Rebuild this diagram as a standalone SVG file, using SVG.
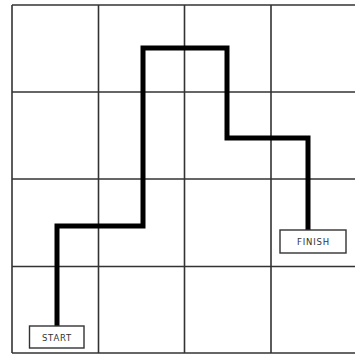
<svg xmlns="http://www.w3.org/2000/svg" width="355" height="356" viewBox="0 0 355 356">
<style>
.grid{stroke:#333;stroke-width:1.6;fill:none}
.path{stroke:#000;stroke-width:5;fill:none;stroke-linejoin:miter}
.box{fill:#fff;stroke:#333;stroke-width:1.4}
.lbl{font-family:"DejaVu Sans",sans-serif;font-size:8.5px;fill:#333;text-anchor:middle;letter-spacing:0.8px}
</style>
<rect width="355" height="356" fill="#fff"/>
<g id="grid" class="grid">
<line x1="12" y1="5" x2="358" y2="5"/>
<line x1="12" y1="92" x2="358" y2="92"/>
<line x1="12" y1="179" x2="358" y2="179"/>
<line x1="12" y1="266.5" x2="358" y2="266.5"/>
<line x1="12" y1="353" x2="358" y2="353"/>
<line x1="12" y1="5" x2="12" y2="353"/>
<line x1="98.5" y1="5" x2="98.5" y2="353"/>
<line x1="184.5" y1="5" x2="184.5" y2="353"/>
<line x1="271" y1="5" x2="271" y2="353"/>
</g>
<g id="connectors">
<polyline class="path" points="57,326 57,226 143,226 143,48 227,48 227,138 308,138 308,230"/>
</g>
<g id="start">
<rect class="box" x="29.5" y="326" width="54.5" height="22"/>
<text class="lbl" x="57" y="340.5">START</text>
</g>
<g id="finish">
<rect class="box" x="280" y="230" width="66" height="23"/>
<text class="lbl" x="313.5" y="245">FINISH</text>
</g>
</svg>
